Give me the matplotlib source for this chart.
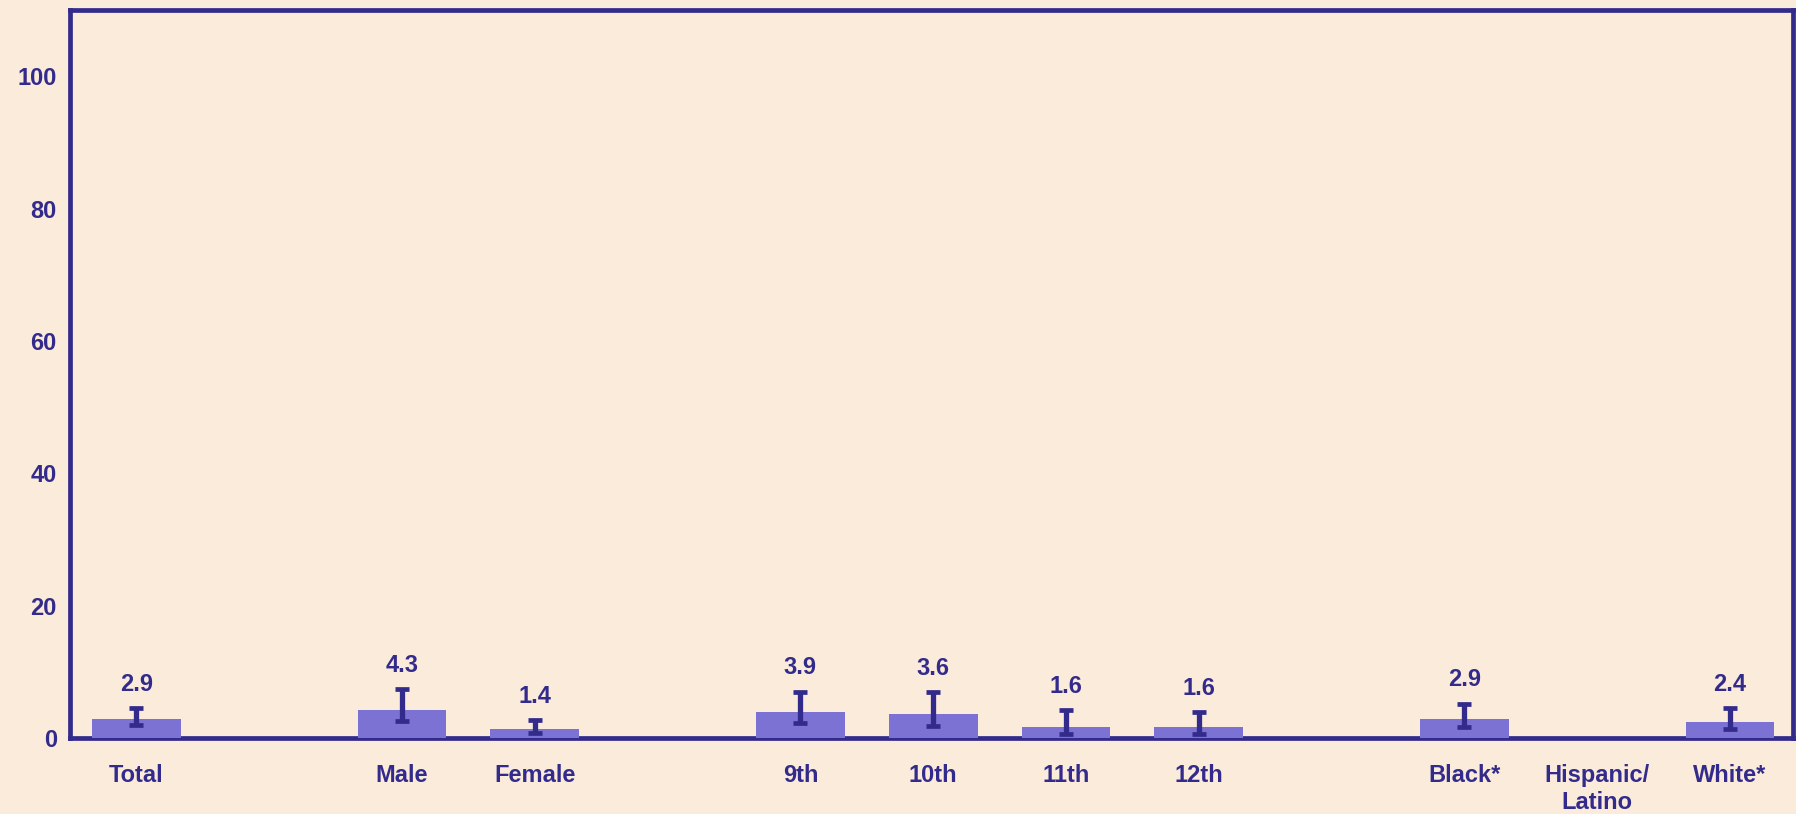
import numpy as np
import matplotlib
matplotlib.use("Agg")
import matplotlib.pyplot as plt

# ---- data ----
categories = ["Total", "Male", "Female", "9th", "10th", "11th", "12th",
              "Black*", "Hispanic/\nLatino", "White*"]
values = [2.9, 4.3, 1.4, 3.9, 3.6, 1.6, 1.6, 2.9, np.nan, 2.4]
ci_low = [1.9, 2.6, 0.7, 2.2, 1.8, 0.6, 0.6, 1.7, np.nan, 1.3]
ci_high = [4.5, 7.4, 2.7, 7.0, 6.9, 4.2, 3.9, 5.2, np.nan, 4.5]
group_sizes = [1, 2, 4, 3]
yticks = [0, 20, 40, 60, 80, 100]

NAVY = "#332B8C"
BAR = "#7B72D4"
BG = "#FBEBDA"

plt.rcParams['font.family'] = ['Liberation Sans', 'DejaVu Sans']

# slot positions: one empty slot between groups
positions = []
slot = 0
for n in group_sizes:
    for i in range(n):
        positions.append(0.5 + slot)
        slot += 1
    slot += 1
positions = np.array(positions, dtype=float)

fig = plt.figure(figsize=(17.96, 8.14), dpi=100, facecolor=BG)
ax = fig.add_axes([70 / 1796, 76 / 814, 1723 / 1796, 728 / 814], facecolor=BG)

vals = np.array(values, dtype=float)
lo = np.array(ci_low, dtype=float)
hi = np.array(ci_high, dtype=float)
mask = ~np.isnan(vals)

ax.bar(positions[mask], vals[mask], width=0.669, color=BAR, zorder=2.6)
ax.errorbar(positions[mask], vals[mask],
            yerr=[vals[mask] - lo[mask], hi[mask] - vals[mask]],
            fmt="none", ecolor=NAVY, elinewidth=3.8, capsize=5.2,
            capthick=3.4, zorder=3)
for x, v, h in zip(positions[mask], vals[mask], hi[mask]):
    ax.annotate(f"{v:.1f}", (x, h), xytext=(0, 9), textcoords="offset points",
                ha="center", va="bottom", fontsize=17, fontweight="bold",
                color=NAVY)

ax.set_xlim(0, 1723 / 132.8)
ax.set_ylim(0, 110)
ax.set_yticks(yticks)
ax.set_yticklabels([str(t) for t in yticks])
ax.set_xticks(positions)
ax.set_xticklabels(categories, va="top", linespacing=1.2)
ax.tick_params(axis="both", length=0, colors=NAVY, labelsize=17)
ax.tick_params(axis="x", pad=19)
ax.tick_params(axis="y", pad=9.5)
for lab in ax.get_xticklabels() + ax.get_yticklabels():
    lab.set_fontweight("bold")
for sp in ax.spines.values():
    sp.set_color(NAVY)
    sp.set_linewidth(3.4)

fig.savefig("out.png", dpi=100, facecolor=BG)
